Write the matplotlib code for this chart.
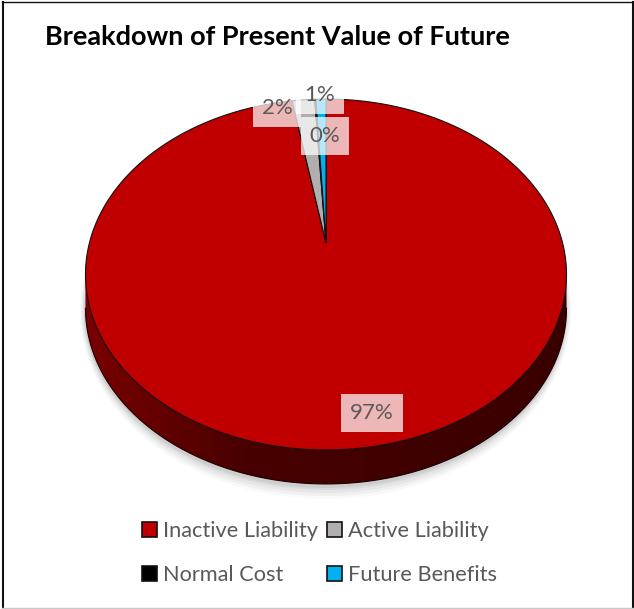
import numpy as np
import matplotlib
matplotlib.use('Agg')
import matplotlib.pyplot as plt
from matplotlib.colors import LinearSegmentedColormap
from matplotlib.patches import Patch, Ellipse, Polygon

plt.rcParams['font.family'] = ['Lato', 'DejaVu Sans']

# values, labels as printed on the chart
categories = ['Inactive Liability', 'Active Liability', 'Normal Cost', 'Future Benefits']
values = [97.3, 1.8, 0.1, 0.8]
value_labels = ['97%', '2%', '0%', '1%']
colors = ['#c00000', '#b2aeae', '#000000', '#00b0f0']

# pie projection, in pixels
apex_x, apex_y = 326, 243
rx, ry = 236.6, 169.8
persp = 0.1795
depth = 34


def project(theta):
    # theta clockwise from 12 o'clock, perspective tilted disc
    u, v = np.sin(theta), np.cos(theta)
    w = 1 + persp * v
    return apex_x + rx * u / w, apex_y - ry * v / w


fig = plt.figure(figsize=(6.34, 6.09), dpi=100)
ax = fig.add_axes([0, 0, 1, 1])
ax.set_xlim(0, 634)
ax.set_ylim(609, 0)
ax.axis('off')

# chart frame, black on three sides and pale along the bottom
ax.plot([2.5, 2.5], [2, 608], color='#111111', lw=1.5, zorder=0)
ax.plot([633, 633], [2, 608], color='#111111', lw=1.5, zorder=0)
ax.plot([2, 633], [2, 2], color='#111111', lw=1.0, zorder=0)
ax.plot([2, 633], [608, 608], color='#c8c8c8', lw=1.0, zorder=0)

# soft shadow under the disc
ell_cx, ell_cy = 325.5, 274.5 + depth
for grow, alpha in zip([13, 10, 7, 4, 2], [0.03, 0.05, 0.06, 0.07, 0.09]):
    ax.add_patch(Ellipse((ell_cx, ell_cy + 2), 2 * (240.5 + grow * 0.4), 2 * (175.5 + grow),
                         fc='#555555', ec='none', alpha=alpha, zorder=1))

# side wall, a gradient clipped to the visible band
wall = np.linspace(np.pi * 0.557, np.pi * 1.443, 200)
wx, wy = project(wall)
band = np.c_[np.r_[wx, wx[::-1]], np.r_[wy + depth, wy[::-1]]]
wall_patch = Polygon(band, fc='none', ec='none')
ax.add_patch(wall_patch)
wall_cmap = LinearSegmentedColormap.from_list('wall', ['#3a0000', '#400000', '#480000', '#7a0000'])
img = ax.imshow(np.linspace(0, 1, 256)[None, :], cmap=wall_cmap, aspect='auto', zorder=2,
                extent=(wx.max(), wx.min(), wy.max() + depth, wy.min()))
img.set_clip_path(wall_patch)
ax.set_xlim(0, 634)
ax.set_ylim(609, 0)
ax.plot(wx, wy + depth, color='#1a0000', lw=0.8, zorder=2.5)

# top of the pie
cum = np.cumsum([0] + values) / sum(values) * 2 * np.pi
for start, end, col in zip(cum[:-1], cum[1:], colors):
    th = np.linspace(start, end, max(3, int((end - start) * 120)))
    x, y = project(th)
    ax.fill(np.r_[apex_x, x], np.r_[apex_y, y], fc=col, ec='#111111', lw=0.8, zorder=3)

# data labels, with the washed out boxes
label_pos = [(372, 413), (277, 108), (325, 136), (320, 95)]
for txt, (lx, ly) in zip(value_labels, label_pos):
    ax.text(lx, ly, txt, fontsize=16, color='#595959', ha='center', va='center', zorder=5,
            bbox=dict(fc='white', ec='none', alpha=0.72, boxstyle='square,pad=0.4'))

ax.text(45, 37, 'Breakdown of Present Value of Future', fontsize=19.5, fontweight='bold',
        color='black', ha='left', va='center', zorder=6)

# legend fills by column, so reorder to read row by row
order = [0, 2, 1, 3]
handles = [Patch(fc=colors[i], ec='#111111', lw=1.2) for i in order]
ax.legend(handles, [categories[i] for i in order], ncols=2, frameon=False,
          loc='center', bbox_to_anchor=(0.504, 0.0915), fontsize=15.7, labelcolor='#595959',
          handlelength=0.67, handleheight=0.67, handletextpad=0.3, columnspacing=0.4,
          labelspacing=1.1)

fig.savefig('out.png', dpi=100)
